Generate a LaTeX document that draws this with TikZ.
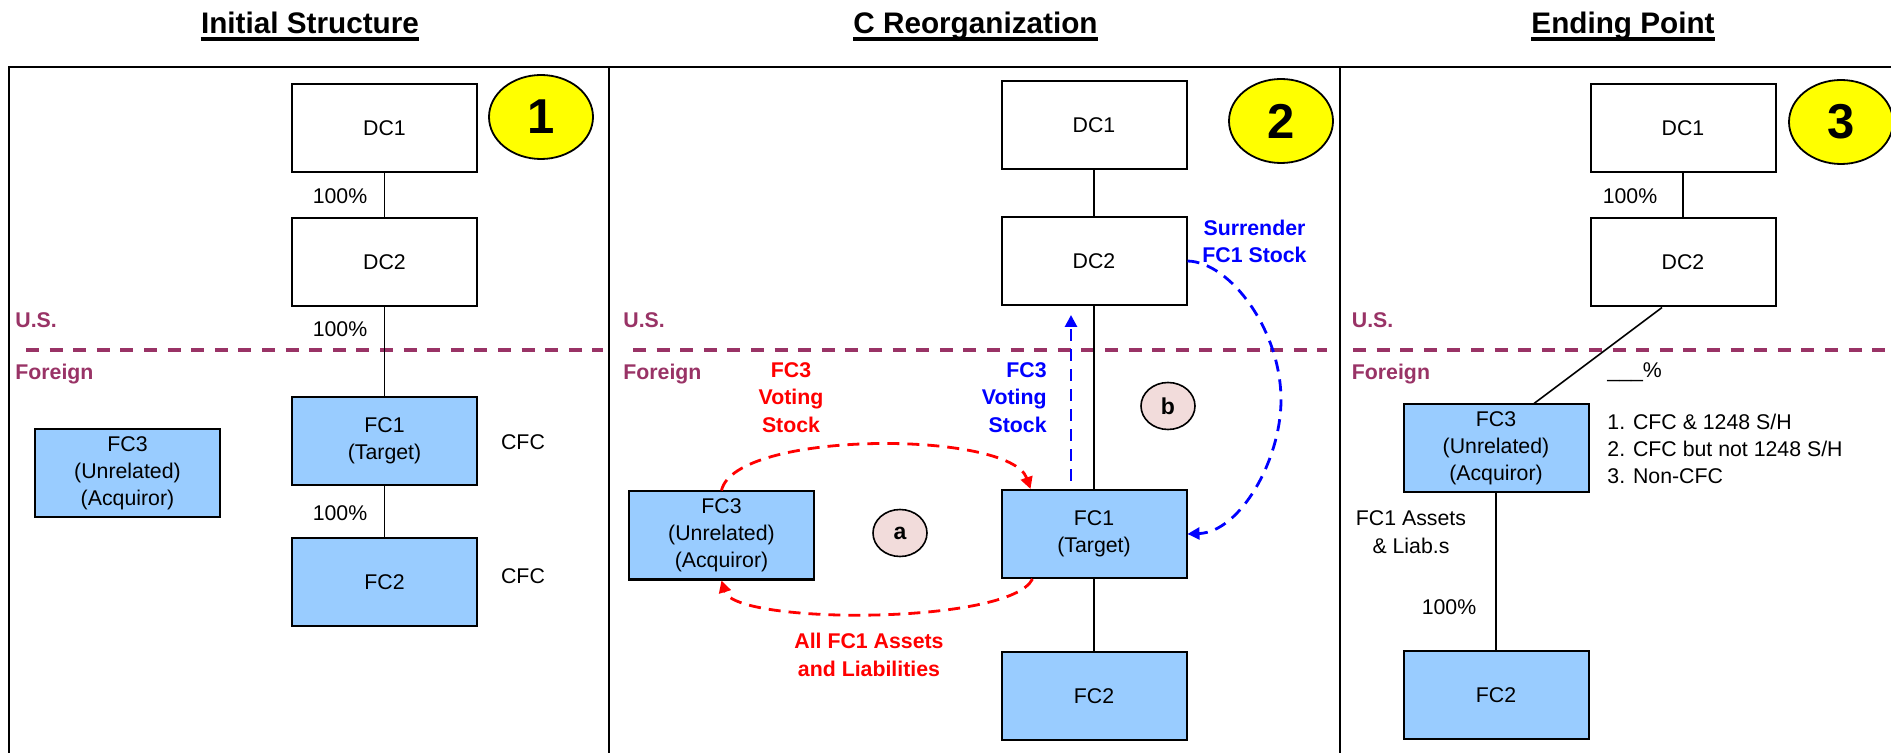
\documentclass[tikz,border=0pt]{standalone}
\usepackage{fontspec}
\setmainfont{Liberation Sans}
\usetikzlibrary{calc,arrows.meta,shapes.geometric}
\definecolor{plum}{HTML}{993366}
\definecolor{boxblue}{HTML}{99CCFF}
\definecolor{pinkc}{HTML}{F2DCDB}
\definecolor{badgeyellow}{HTML}{FFFF00}
\begin{document}
\begin{tikzpicture}[x=0.5pt,y=-0.5pt,
  every node/.style={inner sep=0pt, font=\fontsize{10.65}{13.5}\selectfont},
  company/.style={draw, line width=1pt, minimum width=92.5pt, minimum height=44pt, align=center},
  dom/.style={company, fill=white},
  frn/.style={company, fill=boxblue},
  conn/.style={line width=0.8pt},
  frame/.style={line width=1.2pt},
  border/.style={plum, line width=1.6pt, dash pattern=on 6.5pt off 5.3pt},
  region/.style={plum, font=\fontsize{10.65}{13.5}\selectfont\bfseries, anchor=base west},
  titletext/.style={font=\fontsize{14.85}{18}\selectfont\bfseries, anchor=base},
  badge/.style={ellipse, draw, line width=0.9pt, fill=badgeyellow, minimum width=52pt, minimum height=42pt, font=\fontsize{24.5}{28}\selectfont\bfseries},
  stepc/.style={ellipse, draw, line width=0.8pt, fill=pinkc, minimum width=27pt, minimum height=23.5pt, font=\fontsize{11.5}{13}\selectfont\bfseries},
  redlbl/.style={red, align=center, font=\fontsize{10.65}{13.75}\selectfont\bfseries},
  bluelbl/.style={blue, font=\fontsize{10.65}{13.75}\selectfont\bfseries},
  flow/.style={line width=1.4pt, dash pattern=on 6pt off 4pt, -{Triangle[length=6pt,width=6pt]}},
  pct/.style={anchor=center}
]
\useasboundingbox (0,0) rectangle (1891,753);

% titles
\node[titletext] (t1) at (310,34) {Initial Structure};
\node[titletext] (t2) at (975.5,34) {C Reorganization};
\node[titletext] (t3) at (1623,34) {Ending Point};
\foreach \t in {t1,t2,t3}{
  \draw[line width=2pt] ($(\t.base west)+(0,4.8)$) -- ($(\t.base east)+(0,4.8)$);
}

% frame
\draw[frame] (9,753) -- (9,67) -- (1891,67);
\draw[frame] (609,67) -- (609,753);
\draw[frame] (1340,67) -- (1340,753);

% US / Foreign border lines
\draw[border] (26,350) -- (603,350);
\draw[border] (633,350) -- (1327,350);
\draw[border] (1353,350) -- (1891,350);
\node[region] (us1) at (15,327.3) {U.S.};
\node[region] (fo1) at (15,380) {Foreign};
\node[region] (us2) at (623,327.3) {U.S.};
\node[region] (fo2) at (623,380) {Foreign};
\node[region] (us3) at (1351.5,327.3) {U.S.};
\node[region] (fo3) at (1351.5,380) {Foreign};

% ---------------- Panel 1
\node[dom] (a1) at (384.5,128) {DC1};
\node[dom] (a2) at (384.5,262.5) {DC2};
\node[frn] (a3) at (384.5,441) {FC1\\(Target)};
\node[frn] (a4) at (384.5,581.7) {FC2};
\node[frn] (a5) at (127.5,473.5) {FC3\\(Unrelated)\\(Acquiror)};
\draw[conn] (a1) -- (a2);
\draw[conn] (a2) -- (a3);
\draw[conn] (a3) -- (a4);
\node[pct] (ap1) at (340,196) {100\%};
\node[pct] (ap2) at (340,329) {100\%};
\node[pct] (ap3) at (340,513) {100\%};
\node (acfc1) at (523,442) {CFC};
\node (acfc2) at (523,576) {CFC};
\node[badge] (n1) at (541,117) {1};

% ---------------- Panel 2
\node[dom] (b1) at (1094,125) {DC1};
\node[dom] (b2) at (1094,261) {DC2};
\node[frn] (b3) at (1094,534) {FC1\\(Target)};
\node[frn] (b4) at (1094,696) {FC2};
\node[frn] (b5) at (721.5,535.5) {FC3\\(Unrelated)\\(Acquiror)};
\draw[conn] (b1) -- (b2);
\draw[conn] (b2) -- (b3);
\draw[conn] (b3) -- (b4);
\node[badge] (n2) at (1281,121) {2};
\node[stepc] (sa) at (900,533) {a};
\node[stepc] (sb) at (1168,406) {b};

% red flows
\draw[flow, red] (b5.north) .. controls (735,430) and (1010,430) .. ($(b3.north west)+(30,0)$);
\draw[flow, red] ($(b3.south west)+(32,0)$) .. controls (1010,625) and (735,625) .. (b5.south);
\node[redlbl] (rl1) at (791,397.5) {FC3\\Voting\\Stock};
\node[redlbl] (rl2) at (869,655) {All FC1 Assets\\and Liabilities};

% blue flows
\draw[flow, blue] ($(b3.north)+(-23,-8)$) -- ($(b2.south)+(-23,9)$);
\draw[flow, blue] (b2.east) .. controls (1230,262) and (1281,330) .. (1281,400)
   .. controls (1281,460) and (1240,532) .. (b3.east);
\node[bluelbl, align=right, anchor=east] (bl1) at (1047,397.5) {FC3\\Voting\\Stock};
\node[bluelbl, align=center] (bl2) at (1254.5,241.5) {Surrender\\FC1 Stock};

% ---------------- Panel 3
\node[dom] (c1) at (1683,128) {DC1};
\node[dom] (c2) at (1683,262.5) {DC2};
\node[frn] (c3) at (1496,448.5) {FC3\\(Unrelated)\\(Acquiror)};
\node[frn] (c4) at (1496,695) {FC2};
\draw[conn] (c1) -- (c2);
\draw[conn] ($(c2.south)+(-21,0)$) -- ($(c3.north)+(38,0)$);
\draw[conn] (c3) -- (c4);
\node[pct] (cp1) at (1630,196) {100\%};
\node[pct] (cp2) at (1449,607.6) {100\%};
\node[anchor=base west] (cpx) at (1607,377.6) {\_\_\_\%};
\node[anchor=base west] (cl1) at (1607,429.3) {1. CFC \& 1248 S/H};
\node[anchor=base west] (cl2) at (1607,456.6) {2. CFC but not 1248 S/H};
\node[anchor=base west] (cl3) at (1607,483.1) {3. Non-CFC};
\node[align=center, font=\fontsize{10.65}{13.75}\selectfont] (cas) at (1411,532) {FC1 Assets\\\& Liab.s};
\node[badge] (n3) at (1841,122) {3};
\end{tikzpicture}
\end{document}
